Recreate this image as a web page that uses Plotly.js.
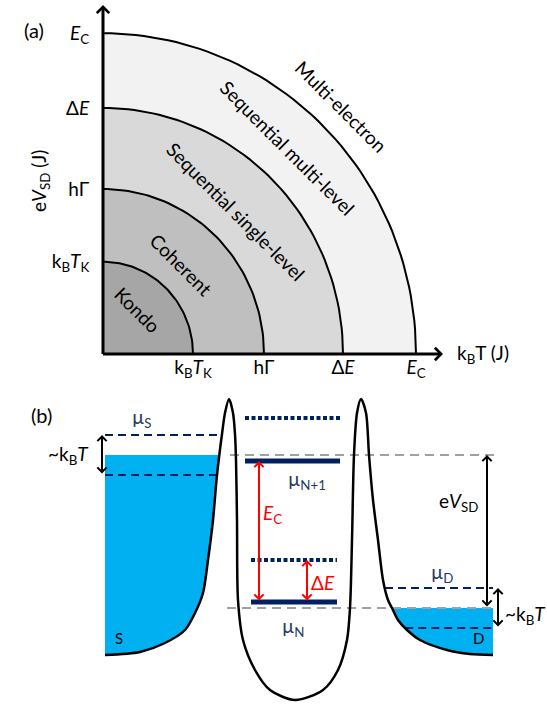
<!DOCTYPE html>
<html><head><meta charset="utf-8">
<script src="https://cdn.plot.ly/plotly-3.0.1.min.js"></script>
<style>html,body{margin:0;padding:0;background:#fff}#chart{width:547px;height:709px}</style>
</head><body><div id="chart"></div>
<script>
// ===== Panel (a) data: regime boundaries (energy, same units on both axes) =====
const boundaryLabels = ['k<sub>B</sub><i>T</i><sub>K</sub>', 'hΓ', 'Δ<i>E</i>', '<i>E</i><sub>C</sub>'];
const boundaryValues = [90, 161, 240, 313];
const regimeNames = ['Kondo', 'Coherent', 'Sequential single-level', 'Sequential multi-level', 'Multi-electron'];

// ===== Panel (b) data: energies relative to drain chemical potential =====
const muD = 0;
const eVSD = 153;
const muS = muD + eVSD;
const kT = 20;
const levelGround = [6, 147];     // μN, μN+1
const levelExcited = [48, 190];   // excited levels above μN, μN+1
const levelLabels = ['µ<sub>N</sub>', 'µ<sub>N+1</sub>'];
// potential landscape: source lead, barrier, dot, barrier, drain lead
const profileX = [105,140,165,185,195,203,208,213,217,222,225,229,233,235,236,237,238,243,255,270,295,323,338,347,350,352,354,357,361,366,369,373,378,383,388,392,398,407,420,447,470,493];
const profileE = [-47,-44,-35,-22,-5,15,48,88,133,174,195,209,195,174,148,88,8,-32,-62,-82,-92,-82,-62,-32,0,68,153,195,209,195,153,108,68,28,8,0,-12,-22,-32,-42,-46,-47];

// ===== styling / layout constants =====
const FONT = 'Lato, "Open Sans", sans-serif';
const W = 547, H = 709;
const fills = ['#a6a6a6', '#bfbfbf', '#d9d9d9', '#f2f2f2'];
const NAVY = '#1f3864', LINE_NAVY = '#002060', BLUE = '#00b0f0', RED = '#ff0000', GRAY = '#a0a0a0';
const YS = 1.025; // vertical stretch of panel (a)

const traces = [];
// ---- panel (a) filled regions and arcs
function arc(r) {
  const xs = [], ys = [];
  for (let a = 0; a <= 90; a += 1.5) {
    const t = a * Math.PI / 180;
    xs.push(r * Math.cos(t)); ys.push(r * Math.sin(t));
  }
  return [xs, ys];
}
for (let i = boundaryValues.length - 1; i >= 0; i--) {
  const [xs, ys] = arc(boundaryValues[i]);
  traces.push({x: [0, ...xs, 0], y: [0, ...ys, 0], mode: 'lines', fill: 'toself', fillcolor: fills[i],
    line: {width: 0}, hoverinfo: 'skip', xaxis: 'x', yaxis: 'y'});
}
boundaryValues.forEach(r => {
  const [xs, ys] = arc(r);
  traces.push({x: xs, y: ys, mode: 'lines', line: {color: '#000', width: 2}, hoverinfo: 'skip', xaxis: 'x', yaxis: 'y'});
});

// ---- panel (b)
const leftPeak = profileE.indexOf(Math.max(...profileE.slice(0, 20)));
const rightPeak = 20 + profileE.slice(20).indexOf(Math.max(...profileE.slice(20)));
function crossX(i0, i1, E) {
  for (let i = i0; i < i1; i++) {
    const a = profileE[i], b = profileE[i + 1];
    if ((a - E) * (b - E) <= 0 && a !== b) return profileX[i] + (E - a) / (b - a) * (profileX[i + 1] - profileX[i]);
  }
  return null;
}
// source fill
{
  const xs = [profileX[0]], ys = [muS];
  xs.push(crossX(0, leftPeak, muS)); ys.push(muS);
  for (let i = leftPeak; i >= 0; i--) if (profileE[i] <= muS) { xs.push(profileX[i]); ys.push(profileE[i]); }
  traces.push({x: xs, y: ys, mode: 'lines', fill: 'toself', fillcolor: BLUE, line: {width: 0}, hoverinfo: 'skip', xaxis: 'x2', yaxis: 'y2'});
}
// drain fill
{
  const last = profileX.length - 1;
  const xs = [crossX(rightPeak, last, muD)], ys = [muD];
  for (let i = rightPeak; i <= last; i++) if (profileE[i] < muD) { xs.push(profileX[i]); ys.push(profileE[i]); }
  xs.push(profileX[last]); ys.push(muD);
  traces.push({x: xs, y: ys, mode: 'lines', fill: 'toself', fillcolor: BLUE, line: {width: 0}, hoverinfo: 'skip', xaxis: 'x2', yaxis: 'y2'});
}
function seg(x0, x1, y, color, width, dash) {
  traces.push({x: [x0, x1], y: [y, y], mode: 'lines', line: {color, width, dash}, hoverinfo: 'skip', xaxis: 'x2', yaxis: 'y2'});
}
// thermal window lines (navy dashed)
seg(profileX[0], crossX(0, leftPeak, muS + kT), muS + kT, LINE_NAVY, 2, '8px,5px');
seg(profileX[0], crossX(0, leftPeak, muS - kT), muS - kT, LINE_NAVY, 2, '8px,5px');
const lastI = profileX.length - 1;
seg(crossX(rightPeak, lastI, muD + kT), profileX[lastI], muD + kT, LINE_NAVY, 2, '8px,5px');
seg(crossX(rightPeak, lastI, muD - kT), profileX[lastI], muD - kT, LINE_NAVY, 2, '8px,5px');
// chemical potential reference lines (gray dashed)
seg(230, 497, muS, GRAY, 2, '9px,6px');
seg(227, 493, muD, GRAY, 2, '9px,6px');
// dot levels
const levelX = [[251, 337], [245, 340]];
levelGround.forEach((e, i) => seg(levelX[i][0], levelX[i][1], e, LINE_NAVY, 5, 'solid'));
levelExcited.forEach((e, i) => seg(levelX[i][0], levelX[i][1], e, LINE_NAVY, 4, '4px,2.5px'));
// potential profile
traces.push({x: profileX, y: profileE, mode: 'lines', line: {color: '#000', width: 2.5, shape: 'spline', smoothing: 0.8},
  hoverinfo: 'skip', xaxis: 'x2', yaxis: 'y2'});

// ===== annotations =====
const ann = [];
function arrow(xr, yr, x0, y0, x1, y1, color, width, both, size) {
  ann.push({xref: xr, yref: yr, axref: xr, ayref: yr, x: x1, y: y1, ax: x0, ay: y0, text: '', showarrow: true,
    arrowhead: 4, startarrowhead: 4, arrowside: both ? 'end+start' : 'end', arrowwidth: width,
    arrowsize: size, startarrowsize: size, arrowcolor: color, standoff: 0, startstandoff: 0});
}
function label(xr, yr, x, y, text, size, color, extra) {
  ann.push(Object.assign({xref: xr, yref: yr, x, y, text, showarrow: false,
    font: {family: FONT, size, color}}, extra || {}));
}
// panel (a) axes arrows
arrow('x', 'y', 0, -1.5 / YS, 0, (354 - 5) / YS, '#000', 3, false, 0.8);
arrow('x', 'y', -1.5, 0, 340, 0, '#000', 3, false, 0.8);
// region labels
const regionPos = [[34, 43], [78, 87], [133, 139], [184, 201], [238, 241]];
regimeNames.forEach((n, i) => label('x', 'y', regionPos[i][0], regionPos[i][1], n, 19, '#000', {textangle: 45}));
label('x', 'y', 352, 0, 'k<sub>B</sub>T (J)', 19, '#000', {xanchor: 'left'});
label('paper', 'paper', 25 / W, 1 - 148 / H, 'e<i>V</i><sub>SD</sub> (J)', 19, '#000', {textangle: -90});
label('paper', 'paper', 22 / W, 1 - 16 / H, '(a)', 20, '#000');
label('paper', 'paper', 29 / W, 1 - 415 / H, '(b)', 20, '#000');

// panel (b) arrows
arrow('x2', 'y2', 102, muS - kT, 102, muS + kT, '#000', 2, true, 0.9);
arrow('x2', 'y2', 498, muD - kT, 498, muD + kT, '#000', 2, true, 0.9);
arrow('x2', 'y2', 487, muD, 487, muS, '#000', 2, true, 0.9);
arrow('x2', 'y2', 259, levelGround[0], 259, levelGround[1], RED, 2, true, 0.9);
arrow('x2', 'y2', 307, levelGround[0], 307, levelExcited[0], RED, 2, true, 0.9);
// panel (b) labels
label('x2', 'y2', 142, 190, 'µ<sub>S</sub>', 19, NAVY);
label('x2', 'y2', 442, 35, 'µ<sub>D</sub>', 19, NAVY);
label('x2', 'y2', 293, -19, levelLabels[0], 19, NAVY);
label('x2', 'y2', 307, 128, levelLabels[1], 19, NAVY);
label('x2', 'y2', 272, 94, '<i>E</i><sub>C</sub>', 19, RED);
label('x2', 'y2', 323, 26, 'Δ<i>E</i>', 19, RED);
label('x2', 'y2', 458, 106, 'e<i>V</i><sub>SD</sub>', 19, '#000');
label('x2', 'y2', 68, 153, '~k<sub>B</sub><i>T</i>', 19, '#000');
label('x2', 'y2', 525, -7, '~k<sub>B</sub><i>T</i>', 19, '#000');
label('x2', 'y2', 119, -30, 'S', 15, '#000');
label('x2', 'y2', 478, -30, 'D', 15, '#000');

const hidden = {visible: false, fixedrange: true};
const layout = {
  width: W, height: H, margin: {l: 0, r: 0, t: 0, b: 0}, paper_bgcolor: '#fff', plot_bgcolor: 'rgba(0,0,0,0)',
  showlegend: false, hovermode: false,
  font: {family: FONT, color: '#000'},
  xaxis: {domain: [103 / W, 1], range: [0, 444], showgrid: false, zeroline: false, showline: false,
    tickmode: 'array', tickvals: boundaryValues, ticktext: boundaryLabels, ticks: '',
    tickfont: {family: FONT, size: 19, color: '#000'}, fixedrange: true, anchor: 'y'},
  yaxis: {domain: [(H - 354) / H, 1], range: [0, 354 / YS], showgrid: false, zeroline: false, showline: false,
    tickmode: 'array', tickvals: boundaryValues, ticktext: boundaryLabels, ticks: 'outside', ticklen: 9,
    tickcolor: 'rgba(0,0,0,0)', tickfont: {family: FONT, size: 19, color: '#000'}, fixedrange: true, anchor: 'x'},
  xaxis2: Object.assign({domain: [0, 1], range: [0, W], anchor: 'y2'}, hidden),
  yaxis2: Object.assign({domain: [0, (H - 380) / H], range: [-101, 228], anchor: 'x2'}, hidden),
  annotations: ann
};
Plotly.newPlot('chart', traces, layout, {displayModeBar: false, staticPlot: true});
</script></body></html>
